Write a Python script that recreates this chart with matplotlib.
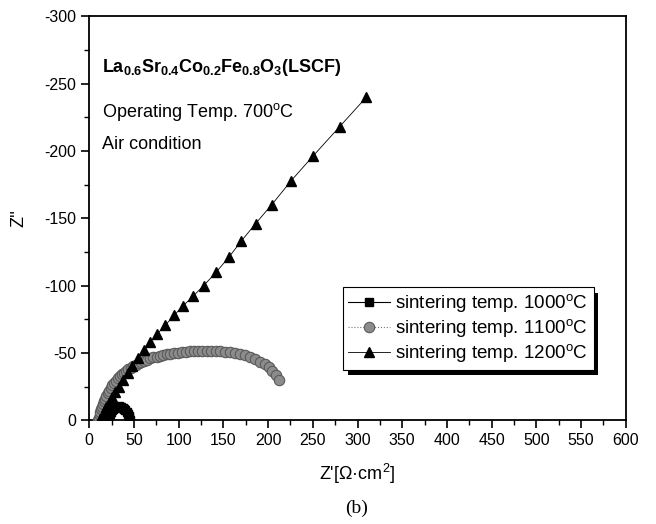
import matplotlib
matplotlib.use("Agg")
import matplotlib.pyplot as plt
from matplotlib.ticker import MultipleLocator
from matplotlib.patches import Rectangle

plt.rcParams['font.family'] = ['Liberation Sans', 'DejaVu Sans']
plt.rcParams['mathtext.fontset'] = 'custom'
plt.rcParams['mathtext.rm'] = 'Liberation Sans'
plt.rcParams['mathtext.it'] = 'Liberation Sans:italic'
plt.rcParams['mathtext.bf'] = 'Liberation Sans:bold'
plt.rcParams['axes.unicode_minus'] = False

# ---- data (Z' in Ohm*cm^2, Z'' negative) ----
x_1000 = [21, 22, 23, 24, 25.5, 27, 28.5, 30, 31.5, 33, 34.5, 36, 37.5, 39, 40.5, 42, 43, 44, 44.8, 45.3]
y_1000 = [0, -2.5, -4.5, -6, -7.5, -8.5, -9.3, -9.9, -10.2, -10.3, -10.2, -9.9, -9.3, -8.5, -7.5, -6.2, -4.8, -3.3, -1.8, -0.3]

x_1100 = [10, 10.7, 11.5, 12.3, 13.2, 14.2, 15.3, 16.5, 17.8, 19.2, 20.7, 22.3, 24, 25.8, 27.7, 29.7,
          31.8, 34, 36.3, 38.7, 41.2, 43.8, 46.5, 49.3, 52.2, 55.2, 58.3, 61.5, 64.8, 68.2, 71.7, 75.3,
          79, 82.8, 86.7, 90.7, 94.8, 99, 103.3, 107.7, 112.2, 116.8, 121.5, 126.3, 131.2, 136.2,
          141.3, 146.5, 151.8, 157.2, 162.7, 168.3, 174, 179.8, 185.5, 191, 196, 200.5, 204.5, 208.3, 212]
y_1100 = [0, -2, -4, -6, -8, -10, -12, -14, -16, -18, -20, -22, -24, -26, -27.8, -29.5,
          -31.1, -32.6, -34, -35.4, -36.7, -37.9, -39.1, -40.2, -41.3, -42.3, -43.3, -44.2, -45.1, -45.9,
          -46.6, -47.3, -47.9, -48.5, -49, -49.5, -49.9, -50.3, -50.6, -50.9, -51.1, -51.3, -51.4, -51.5,
          -51.5, -51.5, -51.4, -51.2, -50.9, -50.5, -49.9, -49.1, -48.1, -46.9, -45.4, -43.6, -41.6, -39.4,
          -36.9, -33.6, -30]

x_1200 = [12, 14, 16, 19, 22, 25, 29, 33, 38, 43, 48, 54, 61, 68, 76, 85, 95, 105, 116, 128, 142,
          156, 170, 186, 204, 226, 250, 280, 310]
y_1200 = [-1, -3, -6, -9.5, -13, -17, -21, -25, -30, -35, -40, -46, -52, -58, -64, -70.5, -78, -85,
          -92, -100, -110, -121, -133, -146, -160, -178, -196, -218, -240]

labels = ['sintering temp. 1000$^\\mathregular{o}$C',
          'sintering temp. 1100$^\\mathregular{o}$C',
          'sintering temp. 1200$^\\mathregular{o}$C']

fig = plt.figure(figsize=(6.56, 5.24), dpi=100)
ax = fig.add_axes([0.136, 0.198, 0.818, 0.771])

l1, = ax.plot(x_1000, y_1000, '-', color='black', lw=0.8, marker='s', ms=6,
              mfc='black', mec='black', label=labels[0], zorder=4)
l2, = ax.plot(x_1100, y_1100, ':', color='#777777', lw=0.8, marker='o', ms=7.5,
              mfc='#8c8c8c', mec='#5a5a5a', mew=0.8, label=labels[1], zorder=3)
l3, = ax.plot(x_1200, y_1200, '-', color='black', lw=0.6, marker='^', ms=7,
              mfc='black', mec='black', label=labels[2], zorder=5)

ax.set_xlim(0, 600)
ax.set_ylim(0, -300)
ax.xaxis.set_major_locator(MultipleLocator(50))
ax.xaxis.set_minor_locator(MultipleLocator(25))
ax.yaxis.set_major_locator(MultipleLocator(50))
ax.yaxis.set_minor_locator(MultipleLocator(25))
ax.tick_params(axis='both', which='major', direction='out', length=6, width=1.2, labelsize=11.5)
ax.tick_params(axis='both', which='minor', direction='out', length=3.5, width=1.0)
for s in ax.spines.values():
    s.set_linewidth(1.3)

ax.set_xlabel("Z'[\u03a9\u00b7cm$^\\mathregular{2}$]", fontsize=13, labelpad=10)
ax.set_ylabel("Z''", fontsize=13, labelpad=12)

ax.text(14, -262, r"$\mathbf{La_{0.6}Sr_{0.4}Co_{0.2}Fe_{0.8}O_{3}(LSCF)}$", fontsize=13,
        ha='left', va='center')
ax.text(14, -229, "Operating Temp. 700$^\\mathregular{o}$C", fontsize=13, ha='left', va='center')
ax.text(14, -205, "Air condition", fontsize=13, ha='left', va='center')

leg = ax.legend(handles=[l1, l2, l3], loc='lower right', bbox_to_anchor=(0.94, 0.125),
                fontsize=13.5, frameon=True, fancybox=False, borderpad=0.3, framealpha=1,
                handlelength=2.2, handletextpad=0.3, labelspacing=0.15, borderaxespad=0)
leg.get_frame().set_edgecolor('black')
leg.get_frame().set_facecolor('white')
leg.get_frame().set_linewidth(0.8)
leg.set_zorder(10)

fig.canvas.draw()
bb = leg.get_window_extent().transformed(ax.transAxes.inverted())
shadow = Rectangle((bb.x0 + 0.009, bb.y0 - 0.014), bb.width, bb.height,
                   transform=ax.transAxes, facecolor='black', edgecolor='none', zorder=9)
ax.add_patch(shadow)

fig.text(0.543, 0.03, "(b)", fontsize=14, family='Liberation Serif', ha='center', va='center')

fig.savefig('out.png', dpi=100)
